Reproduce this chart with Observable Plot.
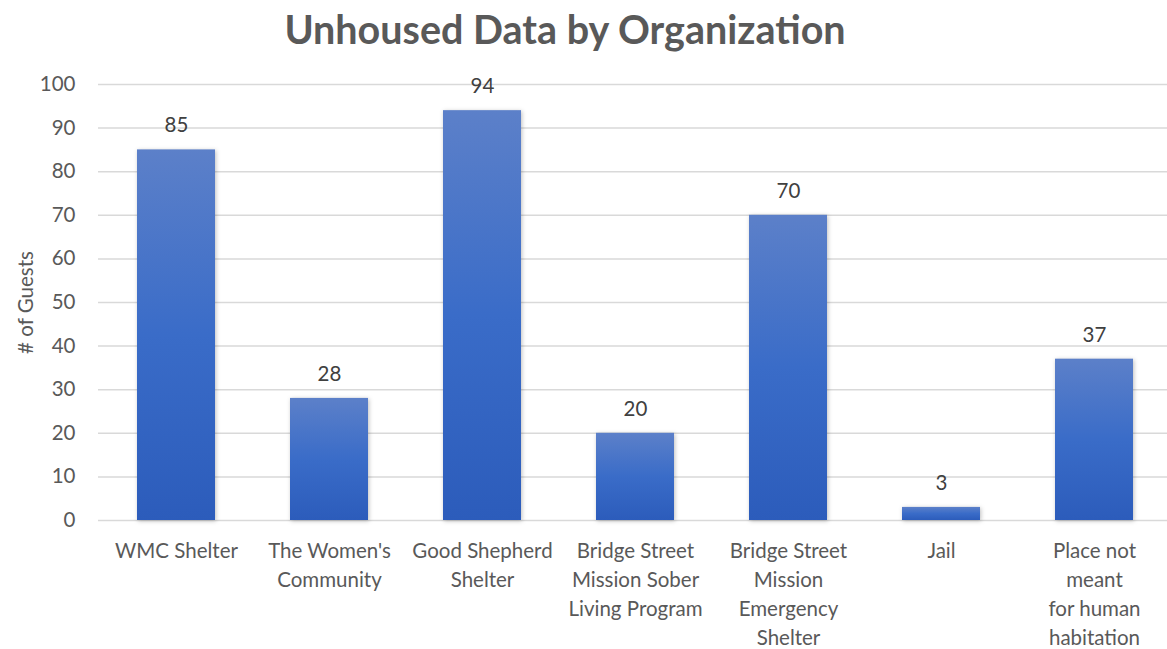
<!DOCTYPE html>
<html><head><meta charset="utf-8">
<script src="https://cdn.jsdelivr.net/npm/d3@7"></script>
<script src="https://cdn.jsdelivr.net/npm/@observablehq/plot@0.6"></script>
<style>
body{margin:0;background:#fff;font-family:Lato,"Open Sans",sans-serif;overflow:hidden;}
#title{height:60px;line-height:58px;text-align:center;font-size:39.5px;font-weight:bold;color:#595959;padding-right:37px;box-sizing:border-box;width:1167px;}
#chart{width:1167px;overflow:hidden;}
svg g[aria-label="bar"] rect{filter:drop-shadow(1px 1px 2px rgba(0,0,0,0.25));}
</style></head>
<body>
<div id="title">Unhoused Data by Organization</div>
<div id="chart"></div>
<script>
const categories = ["WMC Shelter","The Women's\nCommunity","Good Shepherd\nShelter","Bridge Street\nMission Sober\nLiving Program","Bridge Street\nMission\nEmergency\nShelter","Jail","Place not\nmeant\nfor human\nhabitation"];
const values = [85,28,94,20,70,3,37];
const yTicks = [0,10,20,30,40,50,60,70,80,90,100];
const data = categories.map((c,i)=>({cat:c, v:values[i]}));

const plot = Plot.plot({
  width:1173, height:589,
  marginTop:24, marginBottom:129, marginLeft:98, marginRight:0,
  style:{fontFamily:"Lato, 'Open Sans', sans-serif", color:"#595959", background:"#fff", maxWidth:"none"},
  x:{domain:categories, paddingInner:0.49, paddingOuter:0.245},
  y:{domain:[0,100]},
  marks:[
    Plot.gridY(yTicks,{stroke:"#d9d9d9", strokeOpacity:1, strokeWidth:1.5}),
    Plot.barY(data,{x:"cat", y:"v", fill:"url(#barGrad)"}),
    Plot.text(data,{x:"cat", y:"v", text:d=>String(d.v), dy:-24, fontSize:20.5, fill:"#404040"}),
    Plot.axisX({tickSize:0, tickPadding:17, fontSize:20.5, lineHeight:1.42, lineAnchor:"top", fill:"#595959", label:null}),
    Plot.axisY(yTicks,{tickSize:0, tickPadding:23, fontSize:20.5, fill:"#595959", label:"# of Guests", labelAnchor:"center", labelArrow:"none", labelOffset:80})
  ]
});
const ns="http://www.w3.org/2000/svg";
const defs=document.createElementNS(ns,"defs");
defs.innerHTML='<linearGradient id="barGrad" x1="0" y1="0" x2="0" y2="1" gradientUnits="objectBoundingBox"><stop offset="0" stop-color="#5c80c9"/><stop offset="0.5" stop-color="#3a6cc8"/><stop offset="1" stop-color="#2c5cbb"/></linearGradient>';
plot.insertBefore(defs, plot.firstChild);
document.getElementById("chart").appendChild(plot);
</script>
</body></html>
